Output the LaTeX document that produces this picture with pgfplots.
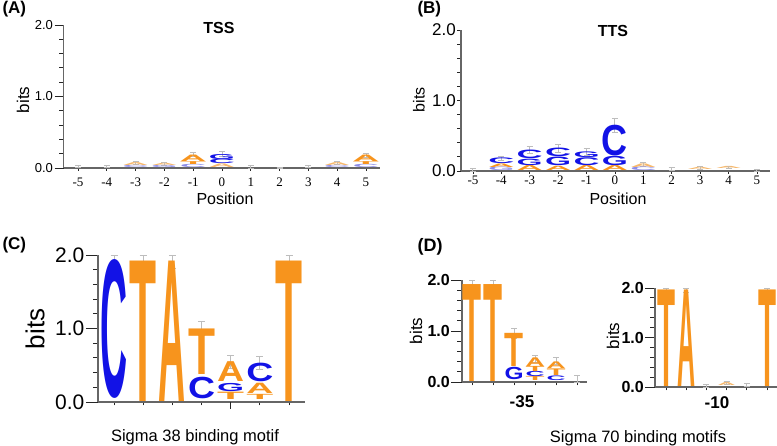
\documentclass[border=0pt]{standalone}
\usepackage{pgfplots}
\pgfplotsset{compat=1.18}
\usepackage{pgfplotstable}
\usepackage{graphicx}
\usepackage{fontspec}
\setmainfont{Liberation Sans}
\newfontfamily\serifnum{Liberation Serif}
\definecolor{lor}{HTML}{F7941D}
\definecolor{lbl}{HTML}{1212E6}
\definecolor{por}{HTML}{F6B86C}
\definecolor{pbl}{HTML}{8C8CE8}
\definecolor{errc}{HTML}{BDBDBD}
\newcommand{\fs}[1]{\fontsize{#1}{#1}\selectfont}
\def\drawlet#1#2\relax{\textcolor{#2}{\resizebox{\cw pt}{\hh pt}{\bfseries #1}}}
\newcommand{\logoletter}{\edef\tmpmeta{\pgfplotspointmeta}\expandafter\drawlet\tmpmeta\relax}

% letter stacks: x, bottom, height (bits), letter+colour
\pgfplotstableread{
x y h LC
-3 0.00 0.03 Cpbl
-3 0.03 0.04 Apor
-2 0.00 0.03 Gpbl
-2 0.03 0.03 Apor
-1 0.005 0.045 Cpbl
-1 0.05 0.04 Tlor
-1 0.09 0.09 Alor
0 0.01 0.05 Apor
0 0.06 0.06 Clbl
0 0.12 0.07 Glbl
4 0.00 0.03 Cpbl
4 0.03 0.04 Apor
5 0.005 0.045 Cpbl
5 0.05 0.04 Tlor
5 0.09 0.09 Alor
}\tabA
\pgfplotstableread{
x y e
-5 0.02 0.015
-4 0.02 0.015
-3 0.07 0.025
-2 0.06 0.02
-1 0.185 0.03
0 0.19 0.035
1 0.02 0.02
2 0.005 0.005
3 0.02 0.015
4 0.07 0.025
5 0.18 0.03
}\errA

\pgfplotstableread{
x y h LC
-4 0.00 0.05 Gpbl
-4 0.05 0.05 Alor
-4 0.10 0.08 Clbl
-3 0.00 0.07 Alor
-3 0.08 0.09 Glbl
-3 0.18 0.12 Clbl
-2 0.00 0.06 Alor
-2 0.07 0.12 Glbl
-2 0.20 0.12 Clbl
-1 0.00 0.07 Alor
-1 0.07 0.11 Clbl
-1 0.19 0.08 Glbl
0 0.00 0.07 Alor
0 0.08 0.13 Glbl
0 0.22 0.43 Clbl
1 0.00 0.05 Cpbl
1 0.05 0.05 Apor
3 0.02 0.03 Apor
4 0.03 0.03 Apor
}\tabB
\pgfplotstableread{
x y e
-5 0.02 0.02
-4 0.18 0.03
-3 0.30 0.05
-2 0.32 0.05
-1 0.27 0.05
0 0.65 0.10
1 0.09 0.03
2 0.03 0.02
3 0.04 0.02
4 0.05 0.02
5 0.01 0.015
}\errB

\pgfplotstableread{
x y h LC
1 0.05 1.86 Clbl
2 0.00 1.91 Tlor
3 0.00 1.91 Alor
4 0.05 0.29 Clbl
4 0.38 0.62 Tlor
5 0.03 0.10 Tlor
5 0.14 0.11 Glbl
5 0.28 0.27 Alor
6 0.03 0.07 Tlor
6 0.11 0.14 Alor
6 0.28 0.25 Clbl
7 0.00 1.91 Tlor
}\tabC
\pgfplotstableread{
x y e
1 1.91 0.09
2 1.91 0.09
3 1.91 0.09
4 1.00 0.09
5 0.54 0.09
6 0.53 0.09
7 1.91 0.09
}\errC

\pgfplotstableread{
x y h LC
1 0.00 1.90 Tlor
2 0.00 1.90 Tlor
3 0.04 0.24 Glbl
3 0.30 0.65 Tlor
4 0.02 0.08 Tlor
4 0.10 0.10 Clbl
4 0.20 0.10 Tlor
4 0.30 0.17 Alor
5 0.03 0.09 Clbl
5 0.13 0.13 Tlor
5 0.27 0.13 Alor
}\tabDa
\pgfplotstableread{
x y e
1 1.90 0.10
2 1.90 0.10
3 0.95 0.10
4 0.46 0.07
5 0.41 0.07
6 0.06 0.07
}\errDa

\pgfplotstableread{
x y h LC
1 0.00 1.95 Tlor
2 0.00 1.95 Alor
4 0.03 0.06 Apor
6 0.00 1.95 Tlor
}\tabDb
\pgfplotstableread{
x y e
1 1.95 0.04
2 1.95 0.04
3 0.03 0.03
4 0.09 0.03
5 0.04 0.03
6 1.95 0.04
}\errDb

\pgfplotsset{
  logoaxis/.style={
    anchor=south west,
    ymin=0, ymax=2,
    ytick={0,1,2}, yticklabels={0.0,1.0,2.0},
    minor ytick={0.2,0.4,0.6,0.8,1.2,1.4,1.6,1.8},
    axis x line*=bottom, axis y line*=left,
    axis line style={-, line width=1.5pt, draw=black!60},
    tick align=outside,
    major tick style={line width=0.8pt, draw=black!85},
    minor tick style={line width=0.8pt, draw=black!85},
    clip=false,
  },
  letters/.style={
    draw=none, mark=none,
    point meta=explicit symbolic,
    visualization depends on={\thisrow{h}*#1 \as \hh},
    nodes near coords={\logoletter},
    every node near coord/.style={anchor=south, inner sep=0pt, outer sep=0pt},
  },
  errs/.style={
    draw=none, mark=none,
    error bars/.cd, y dir=both, y explicit,
    error bar style={draw=errc, line width=0.9pt},
    error mark options={draw=errc, line width=0.9pt, mark size=#1, rotate=90},
  },
}

\begin{document}
\begin{tikzpicture}
\useasboundingbox (0pt,0pt) rectangle (777pt,446pt);

% ---------------- (A) TSS
\def\cw{26}
\begin{axis}[logoaxis, at={(63.6pt,278pt)},
  xmin=-5.5, xmax=5.5, x=28.8pt, y=71.5pt,
  xtick={-5,-4,-3,-2,-1,0,1,2,3,4,5},
  xticklabels={-5,-4,-3,-2,-1,0,1,2,3,4,5},
  xticklabel style={font=\serifnum\fs{13}, inner sep=1pt},
  yticklabel style={font=\fs{13}, inner sep=1.5pt},
  major tick length=9pt, minor tick length=4.5pt,
  xtick style={/pgfplots/major tick length=3pt},
]
\addplot[letters=71.5] table[x=x, y=y, meta=LC] {\tabA};
\addplot[errs=3pt] table[x=x, y=y, y error=e] {\errA};
\end{axis}

% ---------------- (B) TTS
\def\cw{26}
\begin{axis}[logoaxis, at={(461pt,275pt)},
  xmin=-5.42, xmax=5.46, x=28.4pt, y=70.5pt,
  xtick={-5,-4,-3,-2,-1,0,1,2,3,4,5},
  xticklabels={-5,-4,-3,-2,-1,0,1,2,3,4,5},
  xticklabel style={font=\serifnum\fs{13}, inner sep=1pt},
  yticklabel style={font=\fs{17}, inner sep=1pt},
  major tick length=4pt, minor tick length=4pt,
  xtick style={/pgfplots/major tick length=3pt},
]
\addplot[letters=70.5] table[x=x, y=y, meta=LC] {\tabB};
\addplot[errs=3pt] table[x=x, y=y, y error=e] {\errB};
\end{axis}

% ---------------- (C) Sigma 38
\def\cw{27}
\begin{axis}[logoaxis, at={(98pt,44pt)},
  xmin=0.45, xmax=7.55, x=29.17pt, y=73.5pt,
  xtick={1,2,3,4,5,6,7}, xticklabels={},
  extra x ticks={5}, extra x tick labels={},
  extra x tick style={xtick style={/pgfplots/major tick length=7pt}},
  yticklabel style={font=\fs{21}, inner sep=1.5pt},
  major tick length=12pt, minor tick length=5pt,
  xtick style={/pgfplots/major tick length=3.5pt},
]
\addplot[letters=73.5] table[x=x, y=y, meta=LC] {\tabC};
\addplot[errs=3.5pt] table[x=x, y=y, y error=e] {\errC};
\end{axis}

% ---------------- (D) -35
\def\cw{19}
\begin{axis}[logoaxis, at={(462pt,64pt)},
  xmin=0.524, xmax=6.48, x=21pt, y=51pt,
  xtick={1,2,3,4,5,6}, xticklabels={},
  yticklabel style={font=\bfseries\fs{16}, inner sep=1pt},
  major tick length=11pt, minor tick length=5pt,
  xtick style={/pgfplots/major tick length=3.5pt},
]
\addplot[letters=51] table[x=x, y=y, meta=LC] {\tabDa};
\addplot[errs=3pt] table[x=x, y=y, y error=e] {\errDa};
\end{axis}

% ---------------- (D) -10
\def\cw{18}
\begin{axis}[logoaxis, at={(655pt,59pt)},
  xmin=0.455, xmax=7.0, x=20.2pt, y=49.5pt,
  xtick={1,2,3,4,5,6}, xticklabels={},
  yticklabel style={font=\bfseries\fs{16}, inner sep=1pt},
  major tick length=10pt, minor tick length=5pt,
  xtick style={/pgfplots/major tick length=3.5pt},
]
\addplot[letters=49.5] table[x=x, y=y, meta=LC] {\tabDb};
\addplot[errs=3pt] table[x=x, y=y, y error=e] {\errDb};
\end{axis}

% ---------------- labels
\node[anchor=west, font=\bfseries\fs{17}] at (-1pt,437pt) {(A)};
\node[font=\bfseries\fs{16}] at (219pt,418pt) {TSS};
\node[rotate=90, font=\fs{17}] at (23pt,346pt) {bits};
\node[font=\fs{16}] at (225pt,247pt) {Position};

\node[anchor=west, font=\bfseries\fs{17}] at (414pt,437pt) {(B)};
\node[font=\bfseries\fs{16}] at (613pt,415pt) {TTS};
\node[rotate=90, font=\fs{16}] at (419pt,346pt) {bits};
\node[font=\fs{16}] at (618pt,247pt) {Position};

\node[anchor=west, font=\bfseries\fs{17}] at (-1pt,201pt) {(C)};
\node[rotate=90, font=\fs{26}] at (35pt,117pt) {bits};
\node[font=\fs{16.5}] at (195pt,9pt) {Sigma 38 binding motif};

\node[anchor=west, font=\bfseries\fs{18}] at (414pt,199.5pt) {(D)};
\node[rotate=90, font=\fs{17}] at (416pt,115pt) {bits};
\node[rotate=90, font=\fs{17}] at (613pt,110pt) {bits};
\node[font=\bfseries\fs{17}] at (522pt,44pt) {-35};
\node[font=\bfseries\fs{17}] at (717pt,43pt) {-10};
\node[font=\fs{16.5}] at (638pt,8pt) {Sigma 70 binding motifs};
\end{tikzpicture}
\end{document}
